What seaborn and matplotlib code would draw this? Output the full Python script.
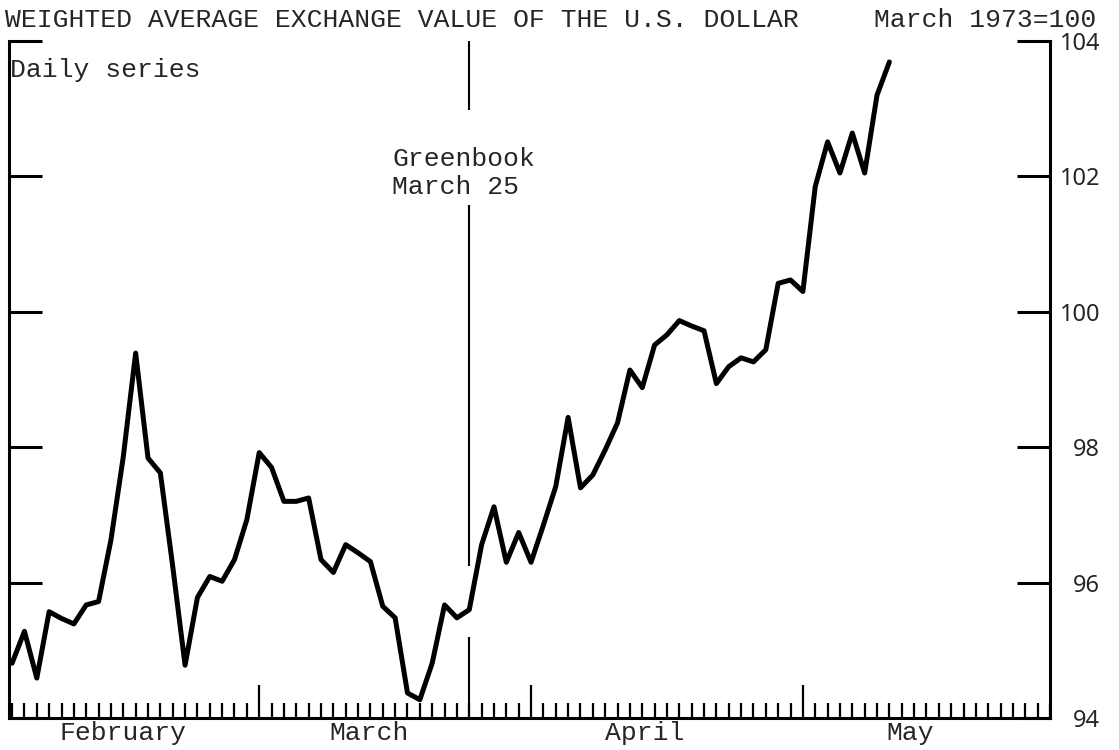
import numpy as np
import pandas as pd
from matplotlib import pyplot as plt
import seaborn as sns

# Weighted average exchange value of the U.S. dollar, daily, March 1973=100
day = list(range(72))
value = [94.81, 95.28, 94.59, 95.57, 95.47, 95.39, 95.67, 95.72, 96.63, 97.86,
         99.39, 97.84, 97.62, 96.24, 94.78, 95.78, 96.09, 96.02, 96.34, 96.93,
         97.92, 97.70, 97.20, 97.20, 97.25, 96.34, 96.15, 96.56, 96.44, 96.31,
         95.65, 95.48, 94.37, 94.27, 94.81, 95.67, 95.48, 95.60, 96.56, 97.12,
         96.30, 96.74, 96.30, 96.85, 97.42, 98.44, 97.40, 97.59, 97.96, 98.36,
         99.14, 98.88, 99.51, 99.66, 99.87, 99.79, 99.72, 98.94, 99.19, 99.32,
         99.26, 99.44, 100.42, 100.47, 100.30, 101.85, 102.51, 102.05, 102.64, 102.05,
         103.20, 103.69]

month_names = ['February', 'March', 'April', 'May']
month_label_pos = [9.0, 28.9, 51.2, 72.7]
month_starts = [20, 42, 64]
greenbook_day = 37
y_ticks = [94, 96, 98, 100, 102, 104]

MONO = ['Liberation Mono', 'DejaVu Sans Mono']


def main():
    sns.set_style('white')
    plt.rcParams['font.family'] = ['Noto Sans', 'DejaVu Sans']

    df = pd.DataFrame({'day': day, 'value': value})

    fig = plt.figure(figsize=(11.19, 7.5), dpi=100)
    ax = fig.add_axes([9 / 1119, 32 / 750, 1041 / 1119, 677 / 750])

    sns.lineplot(data=df, x='day', y='value', color='black', linewidth=3.6, ax=ax)

    # Greenbook marker, broken around the text and the series
    ax.vlines([greenbook_day] * 3, [102.98, 96.24, 94.0], [104.0, 101.58, 95.2],
              color='black', linewidth=1.5)
    ax.text(0.368, 0.805, 'Greenbook\nMarch 25', transform=ax.transAxes,
            family=MONO, fontsize=19, ha='left', va='center', linespacing=1.2)

    ax.set_xlim(-0.25, 84)
    ax.set_ylim(94, 104)

    for side in ['left', 'right', 'bottom']:
        ax.spines[side].set_linewidth(2.2)
        ax.spines[side].set_color('black')
    ax.spines['top'].set_visible(False)

    # x: a tick for every day, taller at month starts
    ax.set_xticks(month_starts)
    ax.set_xticks(np.arange(0, 85), minor=True)
    ax.set_xticklabels([])
    ax.tick_params(axis='x', which='major', direction='in', length=24, width=1.6,
                   bottom=True, color='black')
    ax.tick_params(axis='x', which='minor', direction='in', length=11, width=1.6,
                   bottom=True, color='black')
    for name, pos in zip(month_names, month_label_pos):
        ax.text(pos, -0.022, name, transform=ax.get_xaxis_transform(),
                family=MONO, fontsize=19, ha='center', va='center')

    # y: ticks on both sides, labels on the right
    ax.set_yticks(y_ticks)
    ax.set_yticklabels([str(t) for t in y_ticks])
    ax.tick_params(axis='y', which='major', direction='in', length=24, width=2.2,
                   left=True, right=True, labelleft=False, labelright=True,
                   labelsize=17, pad=36, color='black')
    for lab in ax.get_yticklabels(which='both'):
        lab.set_horizontalalignment('right')
    ax.set_xlabel('')
    ax.set_ylabel('')

    ax.text(0.001, 0.957, 'Daily series', transform=ax.transAxes,
            family=MONO, fontsize=19, ha='left', va='center')

    fig.text(5 / 1119, 1 - 20 / 750,
             'WEIGHTED AVERAGE EXCHANGE VALUE OF THE U.S. DOLLAR',
             family=MONO, fontsize=19, ha='left', va='center')
    fig.text(1096 / 1119, 1 - 20 / 750, 'March 1973=100',
             family=MONO, fontsize=19, ha='right', va='center')

    fig.savefig('out.png', dpi=100)


if __name__ == "__main__":
    main()
